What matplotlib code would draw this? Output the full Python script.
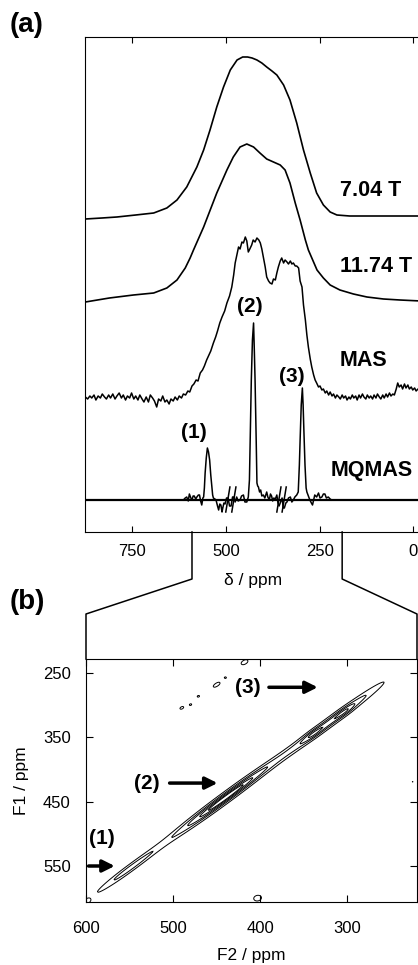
"""
plot.py - 1D MAS / MQMAS spectra (a) and 2D MQMAS contour plot (b)
"""
import numpy as np
import matplotlib; matplotlib.use("Agg")
import matplotlib.pyplot as plt
from matplotlib.lines import Line2D

plt.rcParams["font.family"] = ["Liberation Sans", "DejaVu Sans"]

# --- (a) 1D spectra: shift (ppm) and height above each trace's own baseline ---
ppm_704 = [874, 830, 790, 740, 692, 657, 630, 604, 577, 559, 542, 524, 506, 488, 470, 455,
           442, 430, 417, 404, 391, 377, 364, 346, 329, 311, 293, 275, 258, 240, 222, 204,
           170, 120, 60, 0, -20]
h_704 = [-1, 0, 1, 3, 5, 10, 18, 31, 51, 68, 88, 111, 131, 148, 158, 161,
         161, 160, 158, 155, 151, 147, 143, 133, 118, 95, 68, 45, 25, 13, 6, 3,
         2, 2, 2, 2, 2]

ppm_1174 = [874, 810, 746, 692, 657, 630, 608, 595, 586, 559, 524, 497, 480, 462, 444, 426,
            409, 391, 373, 355, 342, 329, 315, 302, 288, 280, 257, 240, 222, 196, 160, 124,
            80, 36, -20]
h_1174 = [-1, 3, 6, 8, 13, 21, 33, 43, 51, 74, 108, 131, 144, 154, 157, 154,
          148, 142, 139, 136, 131, 118, 98, 81, 61, 51, 31, 23, 16, 11, 7, 4,
          2, 1, 0]

ppm_mas = [874, 868, 862, 857, 851, 846, 840, 834, 829, 823, 818, 812, 807, 801, 795, 790,
           784, 778, 773, 767, 762, 756, 751, 745, 740, 734, 729, 723, 718, 712, 706, 701,
           695, 690, 684, 679, 673, 668, 662, 657, 651, 646, 640, 635, 629, 624, 618, 613,
           607, 601, 596, 590, 585, 579, 574, 568, 562, 557, 551, 545, 540, 533, 527, 522,
           516, 510, 503, 497, 490, 484, 479, 475, 470, 466, 462, 457, 453, 448, 444, 440,
           436, 431, 427, 422, 417, 412, 408, 404, 400, 395, 391, 386, 382, 377, 373, 368,
           364, 360, 355, 351, 346, 342, 337, 333, 328, 324, 320, 315, 311, 306, 302, 297,
           293, 288, 284, 280, 275, 271, 266, 262, 258, 253, 249, 244, 240, 235, 231, 226,
           222, 217, 213, 208, 204, 199, 195, 190, 186, 181, 177, 172, 168, 163, 159, 154,
           150, 145, 141, 136, 132, 127, 123, 118, 114, 109, 105, 100, 96, 91, 87, 82,
           78, 73, 69, 64, 60, 55, 51, 46, 42, 38, 33, 29, 24, 20, 15, 11,
           6, 2, -3, -7, -12, -16, -20]
h_mas = [0, -2, 1, -1, 2, -3, 1, -1, 3, 0, -2, 2, -1, 3, -2, 1,
         4, -1, 2, -3, 1, -1, 4, -2, 1, -3, 2, -2, -5, 0, -5, 2,
         -1, -4, -10, -2, -4, 1, -5, -3, -7, -2, -4, 0, -3, 1, -1, 3,
         2, 6, 5, 11, 13, 17, 16, 24, 27, 31, 37, 42, 46, 54, 60, 66,
         74, 80, 86, 94, 101, 110, 122, 134, 143, 150, 148, 155, 154, 160, 156, 145,
         148, 152, 157, 155, 159, 157, 154, 148, 140, 130, 120, 116, 114, 113, 118, 117,
         124, 130, 136, 139, 134, 137, 135, 133, 136, 133, 134, 131, 131, 129, 116, 110,
         92, 77, 62, 50, 38, 30, 22, 17, 14, 10, 11, 7, 8, 4, 6, 2,
         5, 1, 3, -1, 2, 0, -2, 2, -1, 1, -3, 0, -2, 2, -1, 1,
         -3, 2, -1, 3, 0, -2, 2, -1, 1, -2, 2, -1, 3, 0, -2, 2,
         -1, 3, 0, 4, 1, 3, 2, 8, 14, 10, 12, 8, 13, 9, 12, 8,
         10, 7, 9, 6, 8, 7, 7]

ppm_mq = [613, 608, 604, 600, 597, 593, 590, 587, 584, 580, 577, 573, 570, 567, 564, 561,
          559, 557, 555, 552, 549, 546, 543, 540, 537, 535, 533, 529, 526, 522, 519, 516,
          513, 510, 508, 505, 502, 498, 494, 490, 486, 482, 479, 475, 471, 467, 462, 458,
          453, 449, 444, 440, 437, 434, 432, 429, 426, 424, 422, 419, 417, 415, 413, 410,
          407, 404, 400, 396, 391, 388, 384, 381, 378, 375, 372, 368, 364, 361, 358, 354,
          350, 347, 344, 340, 337, 333, 328, 324, 320, 316, 311, 307, 304, 302, 299, 296,
          294, 292, 289, 286, 284, 280, 276, 272, 269, 266, 263, 258, 253, 249, 244, 240,
          236, 232, 227, 222, 218]
h_mq = [0, 2, 3, -1, 6, 2, 0, 4, 4, 1, 3, 5, 5, -1, -5, 2,
        3, 12, 27, 42, 52, 48, 40, 25, 13, 5, 2, 1, 0, -6, -10, -4,
        -5, -12, -8, -3, -4, 2, 2, -6, -6, 3, 3, -2, 3, -1, 0, 4,
        5, -2, -2, 3, 20, 80, 120, 160, 177, 150, 120, 60, 17, 14, 13, 8,
        10, 4, 5, 2, 8, 3, 0, 6, 4, -1, 2, 1, 5, -3, -6, -2,
        2, -8, -8, -3, -2, 2, 3, -2, 0, 3, 5, 8, 35, 60, 95, 112,
        95, 70, 35, 12, 8, 4, 0, -3, -5, 0, 5, 3, 7, 2, 3, 6,
        6, 2, 3, 1, 0]

# break marks "//" on the MQMAS trace: (ppm_start, ppm_end), height -12 -> 13
breaks = [(500, 489), (484, 473), (364, 353), (350, 339)]

OFF_704, OFF_1174, OFF_MAS, OFF_MQ = 314, 231, 135, 32
labels_a = ["7.04 T", "11.74 T", "MAS", "MQMAS"]
label_ppm = [196, 196, 196, 222]
label_y = [342, 265, 172, 62]
site_lbl = ["(1)", "(2)", "(3)"]
site_ppm = [584, 435, 323]
site_y = [100, 226, 156]

# --- (b) 2D MQMAS: ridge components along the diagonal (F2, F1 in ppm) ---
ridge_f2 = [550, 440, 320, 340, 303]
ridge_f1 = [554, 444, 326, 345, 310]
ridge_len = [35, 55, 50, 10, 10]
ridge_wid = [3.2, 4.0, 3.8, 3.0, 3.0]
ridge_amp = [0.45, 1.0, 0.7, 0.2, 0.2]
# small spurious islands
spur_f2 = [490, 480, 471, 450, 440, 418, 403, 598, 225]
spur_f1 = [304, 299, 286, 268, 257, 233, 600, 604, 419]
spur_len = [3.0, 2.0, 2.0, 5.0, 1.6, 4.0, 4.0, 3.0, 1.0]
spur_wid = [1.8, 1.6, 1.6, 2.2, 1.6, 2.4, 3.5, 2.5, 0.8]
spur_amp = [0.22, 0.2, 0.2, 0.25, 0.2, 0.3, 0.3, 0.25, 0.18]
levels_b = [0.15, 0.35, 0.55, 0.75, 0.88]

arrow_lbl = ["(1)", "(2)", "(3)"]
arrow_txt = [(582, 507), (530, 421), (414, 272)]
arrow_from = [(597, 550), (504, 421), (390, 272)]
arrow_to = [(567, 550), (449, 421), (334, 272)]

ZOOM_PPM = (590, 190)

# --- figure ---
fig = plt.figure(figsize=(4.18, 9.65), dpi=100)
ax = fig.add_axes([85/418, 1-532/965, 336/418, 495/965])
ax.plot(ppm_704, np.array(h_704) + OFF_704, color="k", lw=1.2)
ax.plot(ppm_1174, np.array(h_1174) + OFF_1174, color="k", lw=1.2)
ax.plot(ppm_mas, np.array(h_mas) + OFF_MAS, color="k", lw=1.1)
ax.axhline(OFF_MQ, color="k", lw=1.6)
ax.plot(ppm_mq, np.array(h_mq) + OFF_MQ, color="k", lw=1.1)
for a, b in breaks:
    ax.plot([a, b], [OFF_MQ - 12, OFF_MQ + 13], color="k", lw=1.1)
for t, x, y in zip(labels_a, label_ppm, label_y):
    ax.text(x, y, t, ha="left", va="center", fontsize=15.5, weight="bold")
for t, x, y in zip(site_lbl, site_ppm, site_y):
    ax.text(x, y, t, ha="center", va="center", fontsize=15, weight="bold")
ax.set_xlim(875, -20); ax.set_ylim(0, 495)
ax.set_xticks([750, 500, 250, 0]); ax.set_yticks([])
ax.tick_params(axis="x", direction="in", top=True, length=4.5, width=0.8, labelsize=12, pad=9)
for s in ax.spines.values(): s.set_linewidth(0.8)
ax.set_xlabel("δ / ppm", fontsize=12.5, labelpad=10)

bx = fig.add_axes([86/418, 1-902/965, 331/418, 243/965])
F2 = np.arange(220, 601, 1.0); F1 = np.arange(228, 607, 1.0)
G2, G1 = np.meshgrid(F2, F1)
Z = np.zeros_like(G2)
def blob(c2, c1, sl, sw, amp):
    u = ((G2 - c2) + (G1 - c1)) / np.sqrt(2)
    v = ((G1 - c1) - (G2 - c2)) / np.sqrt(2)
    return amp * np.exp(-(u**2 / (2*sl**2) + v**2 / (2*sw**2)))
for p in zip(ridge_f2, ridge_f1, ridge_len, ridge_wid, ridge_amp): Z += blob(*p)
for p in zip(spur_f2, spur_f1, spur_len, spur_wid, spur_amp): Z += blob(*p)
bx.contour(G2, G1, Z, levels=levels_b, colors="k", linewidths=0.7)
for t, xy, a0, a1 in zip(arrow_lbl, arrow_txt, arrow_from, arrow_to):
    bx.text(*xy, t, ha="center", va="center", fontsize=15, weight="bold")
    bx.annotate("", xy=a1, xytext=a0,
                arrowprops=dict(arrowstyle="-|>", lw=2.5, color="k", mutation_scale=18,
                                shrinkA=0, shrinkB=0))
bx.set_xlim(600, 220); bx.set_ylim(606, 228)
bx.set_xticks([600, 500, 400, 300]); bx.set_yticks([250, 350, 450, 550])
bx.tick_params(direction="in", top=True, right=True, length=5, width=0.8, labelsize=12)
bx.tick_params(axis="x", pad=14); bx.tick_params(axis="y", pad=11)
for s in bx.spines.values(): s.set_linewidth(0.8)
bx.set_xlabel("F2 / ppm", fontsize=12.5, labelpad=8)
bx.set_ylabel("F1 / ppm", fontsize=12.5, labelpad=10)

# zoom connector between (a) and (b)
fig.canvas.draw()
inv = fig.transFigure.inverted()
ya = ax.get_position().y0
xl = inv.transform(ax.transData.transform((ZOOM_PPM[0], 0)))[0]
xr = inv.transform(ax.transData.transform((ZOOM_PPM[1], 0)))[0]
pb = bx.get_position()
y_drop, y_diag = 1-579/965, 1-614/965
for xs, xe in [(xl, pb.x0), (xr, pb.x1)]:
    fig.add_artist(Line2D([xs, xs, xe, xe], [ya, y_drop, y_diag, pb.y1], color="k", lw=1.1))

fig.text(10/418, 1-25/965, "(a)", ha="left", va="center", fontsize=20, weight="bold")
fig.text(10/418, 1-602/965, "(b)", ha="left", va="center", fontsize=20, weight="bold")

fig.savefig("out.png", dpi=100)
